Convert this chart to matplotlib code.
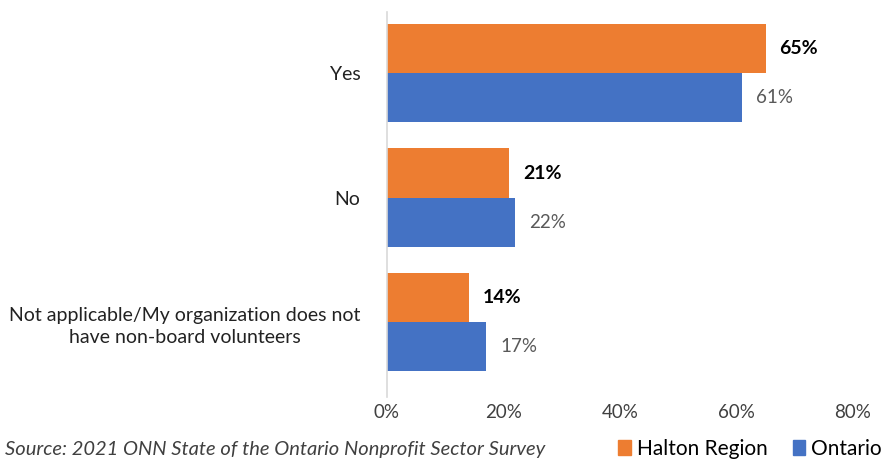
import matplotlib
matplotlib.use("Agg")
import matplotlib.pyplot as plt
from matplotlib.patches import Patch
import numpy as np

categories = ["Yes", "No", "Not applicable/My organization does not\nhave non-board volunteers"]
halton = [65, 21, 14]
ontario = [61, 22, 17]
xticks = [0, 20, 40, 60, 80]
xticklabels = ["0%", "20%", "40%", "60%", "80%"]
series_names = ["Halton Region", "Ontario"]

plt.rcParams['font.family'] = ['Lato', 'DejaVu Sans']

c_orange = "#ED7D31"
c_blue = "#4472C4"

fig = plt.figure(figsize=(8.95, 4.62), dpi=100)
ax = fig.add_axes([387/895, 1-397/462, (853-387)/895, (397-12)/462])

y = np.arange(len(categories))
h = 0.395
ax.barh(y - h/2, halton, height=h, color=c_orange)
ax.barh(y + h/2, ontario, height=h, color=c_blue)

for yi, v in zip(y, halton):
    ax.text(v + 2.4, yi - h/2, f"{v}%", va="center", ha="left", fontsize=14,
            fontweight="bold", color="black")
for yi, v in zip(y, ontario):
    ax.text(v + 2.4, yi + h/2, f"{v}%", va="center", ha="left", fontsize=13.5,
            color="#595959")

ax.set_xlim(0, 80)
ax.set_ylim(2.6, -0.49)
ax.set_xticks(xticks)
ax.set_xticklabels(xticklabels, fontsize=13.5, color="#404040")
ax.set_yticks(y)
ax.set_yticklabels(categories, fontsize=14, color="#222222", ha="right",
                   multialignment="center", linespacing=1.4)
ax.tick_params(axis="both", length=0)
ax.tick_params(axis="y", pad=19)
ax.tick_params(axis="x", pad=5)
for s in ["top", "right", "bottom"]:
    ax.spines[s].set_visible(False)
ax.spines["left"].set_color("#D9D9D9")
ax.spines["left"].set_linewidth(1.2)

fig.text(5/895, 1-449/462, "Source: 2021 ONN State of the Ontario Nonprofit Sector Survey",
         fontsize=14.5, style="italic", color="#404040", va="center", ha="left")

handles = [Patch(color=c_orange), Patch(color=c_blue)]
fig.legend(handles, series_names, loc="center right", bbox_to_anchor=(882/895, 1-449/462),
           ncol=2, frameon=False, fontsize=15, handlelength=0.6, handleheight=0.7,
           handletextpad=0.3, columnspacing=1.2, borderaxespad=0, borderpad=0)

fig.savefig("out.png", dpi=100)
